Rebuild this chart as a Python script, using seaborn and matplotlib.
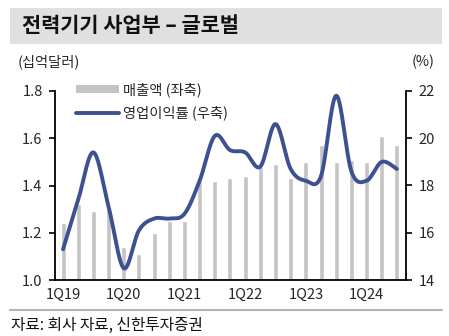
import numpy as np
import pandas as pd
import matplotlib
matplotlib.use("Agg")
import matplotlib.pyplot as plt
from matplotlib.patches import Rectangle, Patch
from matplotlib.lines import Line2D
import seaborn as sns

sns.set_style("white")
plt.rcParams['font.family'] = ['Noto Sans CJK KR', 'DejaVu Sans']

quarters = ["1Q19", "2Q19", "3Q19", "4Q19", "1Q20", "2Q20", "3Q20", "4Q20",
            "1Q21", "2Q21", "3Q21", "4Q21", "1Q22", "2Q22", "3Q22", "4Q22",
            "1Q23", "2Q23", "3Q23", "4Q23", "1Q24", "2Q24", "3Q24"]
sales = [1.24, 1.32, 1.29, 1.30, 1.14, 1.11, 1.20, 1.25,
         1.25, 1.42, 1.42, 1.43, 1.44, 1.48, 1.49, 1.43,
         1.50, 1.57, 1.50, 1.51, 1.50, 1.61, 1.57]
margin = [15.3, 17.4, 19.4, 17.1, 14.5, 16.1, 16.6, 16.6,
          16.8, 18.2, 20.1, 19.5, 19.4, 18.8, 20.6, 18.7,
          18.2, 18.4, 21.8, 18.6, 18.2, 19.0, 18.7]
tick_labels = ["1Q19", "1Q20", "1Q21", "1Q22", "1Q23", "1Q24"]

W, H = 449, 336
fig = plt.figure(figsize=(W / 100, H / 100), dpi=100)

# title band
fig.patches.append(Rectangle((10 / W, 1 - 44 / H), 432 / W, 36 / H,
                             transform=fig.transFigure, facecolor="#e0e0e0",
                             edgecolor="none", zorder=0))
fig.text(22 / W, 1 - 26 / H, "전력기기 사업부 – 글로벌", fontsize=15,
         fontweight="bold", va="center", ha="left", color="#111111")

ax = fig.add_axes([55 / W, 1 - 280 / H, (406 - 55) / W, 189 / H])
df = pd.DataFrame({"q": quarters, "sales": sales})
sns.barplot(data=df, x="q", y="sales", color="#c4c4c4", saturation=1,
            width=0.33, ax=ax, zorder=1)
ax.set_ylim(1.0, 1.8)
ax.set_yticks([1.0, 1.2, 1.4, 1.6, 1.8])
ax.set_yticklabels(["1.0", "1.2", "1.4", "1.6", "1.8"])
ax.set_xlim(-0.53, 22.6)
ax.set_xlabel("")
ax.set_ylabel("")
n = len(quarters)
ax.set_xticks([i for i in range(0, n, 4)])
ax.set_xticklabels(tick_labels)
ax.set_xticks([i + 0.5 for i in range(n - 1)], minor=True)
ax.tick_params(axis="x", which="major", length=0, pad=6, labelsize=10.5)
ax.tick_params(axis="x", which="minor", length=4, width=1.2, direction="out", color="black")
ax.tick_params(axis="y", length=4, width=1.2, direction="out", labelsize=10.5, pad=5, color="black")
for s in ["top", "right"]:
    ax.spines[s].set_visible(False)
for s in ["left", "bottom"]:
    ax.spines[s].set_color("black")
    ax.spines[s].set_linewidth(1.3)

ax2 = ax.twinx()
# smooth curve (Excel-style Bezier) through data points
x = np.arange(n, dtype=float)
y = np.array(margin, dtype=float)
xs, ys = [], []
t = np.linspace(0, 1, 30)
for i in range(n - 1):
    p0 = np.array([x[max(i - 1, 0)], y[max(i - 1, 0)]])
    p1 = np.array([x[i], y[i]])
    p2 = np.array([x[i + 1], y[i + 1]])
    p3 = np.array([x[min(i + 2, n - 1)], y[min(i + 2, n - 1)]])
    c1 = p1 + (p2 - p0) / 6
    c2 = p2 - (p3 - p1) / 6
    for tt in t:
        b = ((1 - tt) ** 3) * p1 + 3 * ((1 - tt) ** 2) * tt * c1 + 3 * (1 - tt) * tt ** 2 * c2 + tt ** 3 * p2
        xs.append(b[0]); ys.append(b[1])
line_df = pd.DataFrame({"x": xs, "y": ys})
sns.lineplot(data=line_df, x="x", y="y", sort=False, color="#3d5191",
             linewidth=2.8, ax=ax2, estimator=None)
ax2.set_ylim(14, 22)
ax2.set_yticks([14, 16, 18, 20, 22])
ax2.set_xlim(-0.53, 22.6)
ax2.set_xlabel("")
ax2.set_ylabel("")
ax2.tick_params(axis="y", length=4, width=1.2, direction="out", labelsize=10.5, pad=5, color="black")
for s in ["top", "left", "bottom"]:
    ax2.spines[s].set_visible(False)
ax2.spines["right"].set_color("black")
ax2.spines["right"].set_linewidth(1.3)

handles = [Patch(facecolor="#c4c4c4", edgecolor="none"),
           Line2D([0], [0], color="#3d5191", linewidth=2.8)]
leg = ax2.legend(handles, ["매출액 (좌축)", "영업이익률 (우축)"],
                 loc="upper left", bbox_to_anchor=(76 / W, 1 - 82 / H),
                 bbox_transform=fig.transFigure, frameon=False, fontsize=10.3,
                 handlelength=3.0, handleheight=0.5, handletextpad=0.3,
                 labelspacing=0.6, borderaxespad=0, borderpad=0)

fig.text(49 / W, 1 - 62 / H, "(십억달러)", fontsize=10.3, ha="center", va="center")
fig.text(423 / W, 1 - 62 / H, "(%)", fontsize=10.3, ha="center", va="center")

fig.add_artist(Line2D([10 / W, 442 / W], [1 - 310 / H, 1 - 310 / H],
                      transform=fig.transFigure, color="#b4b4b4", linewidth=1.5))
fig.text(11 / W, 1 - 325 / H, "자료: 회사 자료, 신한투자증권", fontsize=11.3,
         ha="left", va="center", color="#111111")

fig.savefig("out.png", dpi=100)
